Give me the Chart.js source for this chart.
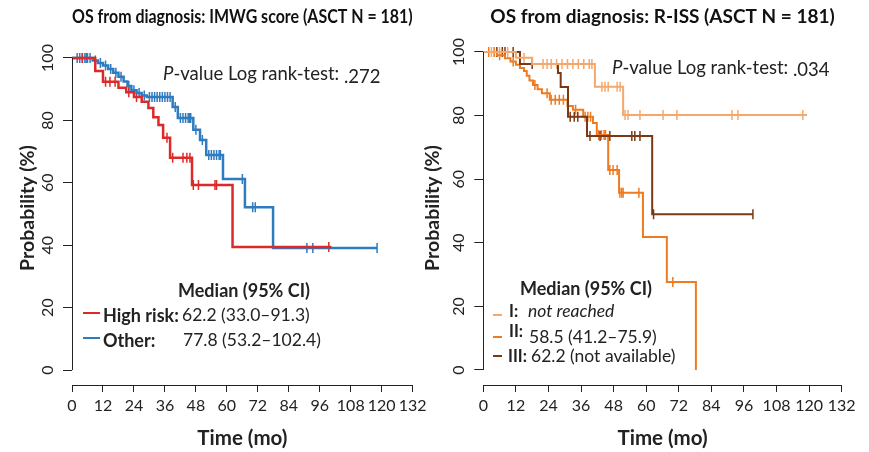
<!DOCTYPE html>
<html>
<head>
<meta charset="utf-8">
<script src="https://cdn.jsdelivr.net/npm/chart.js@4/dist/chart.umd.min.js"></script>
<style>
  body { margin: 0; background: #fff; font-family: Lato, "Open Sans", sans-serif; color: #222; }
  #wrap { position: relative; width: 869px; height: 452px; overflow: hidden; }
  canvas { position: absolute; top: 0; }
  #left { left: 0; }
  #right { left: 415px; }
  .t { position: absolute; font-size: 17.5px; line-height: 20px; white-space: nowrap; }
  .b { font-weight: bold; font-size: 18px; }
  .rn { font-weight: bold; font-size: 16.5px; }
  .pv { font-size: 18.5px; line-height: 22px; }
  .dash { position: absolute; height: 2px; }
</style>
</head>
<body>
<div id="wrap">
  <canvas id="left" width="440" height="452"></canvas>
  <canvas id="right" width="454" height="452"></canvas>

  <div class="t pv" style="left:163px; top:62px;"><i>P</i>-value Log rank-test: <span style="position:relative; top:3px;">.272</span></div>
  <div class="t b" style="left:178px; top:280px;">Median (95% CI)</div>
  <div class="dash" style="left:83px; top:312px; width:17px; background:#dc2a2a;"></div>
  <div class="t b" style="left:103px; top:305px;">High risk:</div>
  <div class="t" style="left:182px; top:305px;">62.2 (33.0–91.3)</div>
  <div class="dash" style="left:83px; top:337px; width:17px; background:#2e7bbf;"></div>
  <div class="t b" style="left:103px; top:330px;">Other:</div>
  <div class="t" style="left:183px; top:330px;">77.8 (53.2–102.4)</div>

  <div class="t pv" style="left:612px; top:56px;"><i>P</i>-value Log rank-test: <span style="position:relative; top:2px;">.034</span></div>
  <div class="t b" style="left:520px; top:278px;">Median (95% CI)</div>
  <div class="dash" style="left:493px; top:314px; width:9px; background:#f5a86b;"></div>
  <div class="t rn" style="left:509px; top:301px;">I:</div>
  <div class="t" style="left:528px; top:301px;"><i>not reached</i></div>
  <div class="dash" style="left:493px; top:336px; width:9px; background:#ee7a22;"></div>
  <div class="t rn" style="left:509px; top:321px;">II:</div>
  <div class="t" style="left:529px; top:327px;">58.5 (41.2–75.9)</div>
  <div class="dash" style="left:493px; top:355px; width:9px; background:#7a3914;"></div>
  <div class="t rn" style="left:508px; top:346px;">III:</div>
  <div class="t" style="left:531px; top:346px;">62.2 (not available)</div>
</div>

<script>
// axis ticks
const xTicks = [0, 12, 24, 36, 48, 60, 72, 84, 96, 108, 120, 132];
const yTicks = [0, 20, 40, 60, 80, 100];

// IMWG: high risk
const riskTimes = [0, 9, 12, 18, 21, 24, 27, 29.6, 31.5, 33.5, 35.3, 38, 46.5, 62.2];
const riskSurv = [100, 95.8, 92.4, 90.5, 89, 87.5, 86, 84, 81, 78.5, 74.4, 68, 59.3, 39.4];
const riskCensor = [4, 13, 14.7, 16.7, 22, 25, 36.8, 39, 43, 44.5, 45.7, 47, 49, 55.4, 56, 99.5];
const riskEnd = 100.5;

// IMWG: other
const otherTimes = [0, 8, 10, 12, 14, 16, 18, 20, 21.5, 23, 25, 27, 29, 39, 41, 47, 49.6, 52, 58.5, 67, 77.9];
const otherSurv = [100, 99.2, 98.4, 97.6, 96.5, 95.3, 94, 92.5, 91, 89.7, 88.8, 88, 87.5, 84.3, 80.8, 77, 73.7, 68.9, 61.2, 52.2, 39.1];
const otherCensor = [2, 3, 4, 5, 5.5, 6, 7, 9, 11, 13, 15, 17, 19, 22, 24, 26, 28, 30, 31, 32, 33, 34, 35, 36, 37, 38,
  40, 42, 43, 44, 45, 45.5, 46, 48, 50.5, 53, 54, 55, 56, 57, 57.5, 66, 70, 71, 91, 93.3, 118.2];
const otherEnd = 118.2;

// R-ISS I
const s1Times = [0, 12, 18, 41.1, 51.5];
const s1Surv = [100, 98.2, 96.2, 89.1, 80.2];
const s1Censor = [3, 6, 9, 15, 22, 23.5, 25, 27, 29, 31, 33, 35, 37, 39, 40, 43.7, 44.8, 46, 49.3, 50.4,
  52.2, 53.3, 57.7, 66.2, 71.3, 91.6, 93.8, 117.7];
const s1End = 119.2;

// R-ISS II
const s2Times = [0, 5, 8, 10, 12, 13.5, 15, 16, 17, 18.3, 20, 21.6, 24.5, 31, 33, 36.8, 40.4, 41.8, 46, 50, 58.8, 67.6, 78.3];
const s2Surv = [100, 99, 98, 97, 96, 95, 94, 92.5, 91, 89.6, 88.3, 87, 85, 83, 81.8, 79.6, 77.7, 73.9, 62.9, 55.7, 41.8, 27.7, 0];
const s2Censor = [2, 4, 6, 11, 19, 23.5, 25, 26.5, 28, 29.5, 34, 37.5, 38.5, 39.5, 42.5, 43.5, 44.5, 45,
  46.6, 47.8, 49.3, 50.3, 51, 51.5, 57.3, 69.8];
const s2End = 78.3;

// R-ISS III
const s3Times = [0, 13.5, 27.5, 28.5, 31.2, 38.2, 62.2];
const s3Surv = [100, 96.2, 93.4, 89, 79.6, 73.6, 49];
const s3Censor = [5, 7, 8, 11, 18, 32, 33.5, 34.8, 39.3, 43, 46.6, 54.7, 55.8, 57.7, 62.7, 99.3];
const s3End = 99.3;

Chart.defaults.font.family = 'Lato, "Open Sans", sans-serif';
Chart.defaults.color = '#222';

function stepPoints(times, surv, end) {
  const pts = times.map((t, i) => ({ x: t, y: surv[i] }));
  if (end > times[times.length - 1]) pts.push({ x: end, y: surv[surv.length - 1] });
  return pts;
}

function survAt(times, surv, t) {
  let s = surv[0];
  for (let i = 0; i < times.length; i++) {
    if (times[i] <= t) s = surv[i];
  }
  return s;
}

function curve(times, surv, end, color, width) {
  return {
    data: stepPoints(times, surv, end),
    borderColor: color,
    borderWidth: width,
    stepped: true,
    pointRadius: 0,
    fill: false
  };
}

function censors(times, surv, cens, color) {
  return {
    data: cens.map(t => ({ x: t, y: survAt(times, surv, t) })),
    showLine: false,
    pointStyle: 'line',
    rotation: 90,
    pointRadius: 5,
    borderWidth: 1.5,
    borderColor: color,
    backgroundColor: color
  };
}

// R style y axis line, only from first to last tick
const yAxisLine = {
  id: 'yAxisLine',
  afterDraw(chart) {
    const ctx = chart.ctx;
    const y = chart.scales.y;
    const x = Math.round(chart.chartArea.left) + 0.5;
    ctx.save();
    ctx.strokeStyle = '#222';
    ctx.lineWidth = 1;
    ctx.beginPath();
    ctx.moveTo(x, y.getPixelForValue(yTicks[0]));
    ctx.lineTo(x, y.getPixelForValue(yTicks[yTicks.length - 1]));
    ctx.stroke();
    ctx.restore();
  }
};

function makeChart(id, title, datasets, p) {
  return new Chart(document.getElementById(id), {
    type: 'line',
    data: { datasets },
    plugins: [yAxisLine],
    options: {
      responsive: false,
      animation: false,
      devicePixelRatio: 1,
      layout: { padding: { left: 0, right: p.right, top: 0, bottom: 0 } },
      plugins: {
        legend: { display: false },
        tooltip: { enabled: false },
        title: {
          display: true,
          text: title,
          fullSize: false,
          color: '#111',
          font: { size: 19, weight: 'bold' },
          padding: { top: 5.6, bottom: 2.6 }
        }
      },
      scales: {
        x: {
          type: 'linear',
          min: xTicks[0],
          max: xTicks[xTicks.length - 1],
          afterBuildTicks: s => { s.ticks = xTicks.map(v => ({ value: v })); },
          afterFit: s => { s.height = 67; },
          grid: { drawOnChartArea: false, drawTicks: true, tickLength: 7, tickColor: '#222' },
          border: { display: true, color: '#222', width: 1 },
          ticks: { font: { size: 16 }, padding: 4, maxRotation: 0, autoSkip: false },
          title: { display: true, text: 'Time (mo)', font: { size: 20.5, weight: 'bold' }, padding: { top: 0, bottom: 1.7 } }
        },
        y: {
          type: 'linear',
          min: p.ymin,
          max: p.ymax,
          afterBuildTicks: s => { s.ticks = yTicks.map(v => ({ value: v })); },
          afterFit: s => { s.width = p.yWidth; },
          grid: { drawOnChartArea: false, drawTicks: true, tickLength: 9, tickColor: '#222' },
          border: { display: false },
          ticks: { font: { size: 16 }, minRotation: 90, maxRotation: 90, crossAlign: 'center', padding: 1.5 },
          title: { display: true, text: 'Probability (%)', font: { size: 19.5, weight: 'bold' }, padding: { top: p.yTitlePad, bottom: 0 } }
        }
      }
    }
  });
}

const red = '#dc2a2a', blue = '#2e7bbf';
const c1 = '#f5a86b', c2 = '#ee7a22', c3 = '#7a3914';

makeChart('left', 'OS from diagnosis: IMWG score (ASCT N = 181)', [
  curve(riskTimes, riskSurv, riskEnd, red, 2.5),
  curve(otherTimes, otherSurv, otherEnd, blue, 2.5),
  censors(riskTimes, riskSurv, riskCensor, red),
  censors(otherTimes, otherSurv, otherCensor, blue)
], { right: 27.3, ymin: -4.8, ymax: 108.65, yWidth: 72, yTitlePad: 16.3 });

makeChart('right', 'OS from diagnosis: R-ISS (ASCT N = 181)', [
  curve(s1Times, s1Surv, s1End, c1, 2),
  curve(s3Times, s3Surv, s3End, c3, 2),
  curve(s2Times, s2Surv, s2End, c2, 2),
  censors(s1Times, s1Surv, s1Censor, c1),
  censors(s3Times, s3Surv, s3Censor, c3),
  censors(s2Times, s2Surv, s2Censor, c2)
], { right: 27.3, ymin: -4.72, ymax: 106.6, yWidth: 68.3, yTitlePad: 6.3 });
</script>
</body>
</html>
